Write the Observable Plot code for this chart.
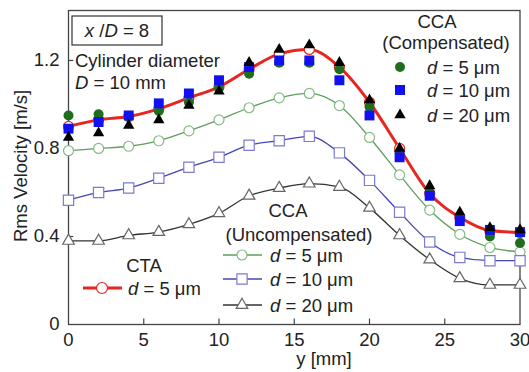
<!DOCTYPE html>
<html><head><meta charset="utf-8">
<script src="https://cdn.jsdelivr.net/npm/d3@7"></script>
<script src="https://cdn.jsdelivr.net/npm/@observablehq/plot@0.6"></script>
<style>body{margin:0;background:#fff}</style>
</head><body><div id="chart"></div>
<script>
const yPos = [0,2,4,6,8,10,12,14,16,18,20,22,24,26,28,30];
const ctaD5  = [0.90,0.93,0.945,0.98,1.03,1.08,1.16,1.23,1.25,1.17,1.01,0.80,0.595,0.487,0.427,0.418];
const ccaC5  = [0.95,0.955,0.945,0.97,1.01,1.075,1.14,1.19,1.19,1.16,0.99,0.78,0.60,0.48,0.40,0.37];
const ccaC10 = [0.89,0.92,0.95,1.005,1.05,1.11,1.17,1.20,1.20,1.11,0.95,0.76,0.585,0.47,0.43,0.42];
const ccaC20 = [0.85,0.87,0.905,0.93,0.995,1.06,1.19,1.25,1.27,1.19,1.02,0.80,0.63,0.51,0.44,0.43];
const ccaU5  = [0.79,0.80,0.81,0.835,0.88,0.93,0.985,1.03,1.05,0.995,0.85,0.68,0.52,0.41,0.35,0.33];
const ccaU10 = [0.565,0.60,0.62,0.665,0.715,0.76,0.815,0.835,0.855,0.78,0.655,0.51,0.375,0.305,0.29,0.29];
const ccaU20 = [0.38,0.38,0.405,0.42,0.455,0.505,0.585,0.62,0.64,0.625,0.53,0.405,0.295,0.21,0.18,0.18];
const xTicks = [0,5,10,15,20,25,30];
const yTicks = [0,0.4,0.8,1.2];
const yTickLabels = ["0","0.4","0.8","1.2"];

const toRows = arr => yPos.map((p,i)=>({x:p, v:arr[i]}));
const font = "'Liberation Sans', Arial, sans-serif";
const FS = 18.5;

const uStyles = [
  {data: ccaU5, line:"#5e9e5e", mark:"#86bb86", symbol:"circle", r:5},
  {data: ccaU10, line:"#4545b5", mark:"#7b7bd0", symbol:"square", r:5.8},
  {data: ccaU20, line:"#333333", mark:"#666666", symbol:"triangle", r:4.3}
];

const marks = [
  Plot.frame({stroke:"#444", strokeWidth:1.3}),
  Plot.ruleY(yTicks.slice(1), {y:d=>d, x1:0, x2:0.35, stroke:"#444", strokeWidth:1.2}),
  Plot.ruleX(xTicks.slice(1,-1), {x:d=>d, y1:0, y2:0.025, stroke:"#444", strokeWidth:1.2}),
  Plot.axisX({ticks:xTicks, tickSize:0, tickPadding:8, label:null, fontSize:FS}),
  Plot.axisY({ticks:yTicks, tickSize:0, tickPadding:9, label:null, fontSize:FS, tickFormat:(d,i)=>yTickLabels[i]})
];
for (const s of uStyles) {
  marks.push(Plot.line(toRows(s.data), {x:"x", y:"v", stroke:s.line, strokeWidth:1.3, curve:"monotone-x"}));
  marks.push(Plot.dot(toRows(s.data), {x:"x", y:"v", symbol:s.symbol, r:s.r, stroke:s.mark, fill:"white", strokeWidth:1.2}));
}
marks.push(Plot.line(toRows(ctaD5), {x:"x", y:"v", stroke:"#e8261f", strokeWidth:3, curve:"monotone-x"}));
marks.push(Plot.dot(toRows(ctaD5), {x:"x", y:"v", symbol:"circle", r:5, stroke:"#e8261f", fill:"white", strokeWidth:1.2}));
marks.push(Plot.dot(toRows(ccaC5), {x:"x", y:"v", symbol:"circle", r:5, fill:"#1e6e1e"}));
marks.push(Plot.dot(toRows(ccaC10), {x:"x", y:"v", symbol:"square", r:5.6, fill:"#1010f0"}));
marks.push(Plot.dot(toRows(ccaC20), {x:"x", y:"v", symbol:"triangle", r:4.2, fill:"#000"}));

const chart = Plot.plot({
  width:529, height:372,
  marginLeft:68, marginRight:9.5, marginTop:10, marginBottom:48,
  x:{domain:[0,30]},
  y:{domain:[0,1.427]},
  style:{fontFamily:font, fontSize:FS+"px", color:"#222", background:"white"},
  marks
});
document.getElementById("chart").appendChild(chart);

// annotations and legends
const svg = d3.select(chart);
const g = svg.append("g").attr("font-family", font).attr("font-size", FS).attr("fill","#222").attr("text-anchor","start");
function dText(x, y, num, anchor="start") {
  const t = g.append("text").attr("x", x).attr("y", y).attr("text-anchor", anchor);
  t.append("tspan").attr("font-style","italic").text("d");
  t.append("tspan").text(" = " + num + " μm");
}
g.append("text").attr("x",21).attr("y",166).attr("text-anchor","middle")
  .attr("transform","rotate(-90,21,166)").attr("dy","0.35em").text("Rms Velocity [m/s]");
g.append("text").attr("x",324).attr("y",365).attr("text-anchor","middle").text("y [mm]");

g.append("rect").attr("x",72).attr("y",16).attr("width",90).attr("height",29).attr("fill","white").attr("stroke","#333").attr("stroke-width",1.2);
const bt = g.append("text").attr("x",117).attr("y",37).attr("text-anchor","middle");
bt.append("tspan").attr("font-style","italic").text("x");
bt.append("tspan").text(" /");
bt.append("tspan").attr("font-style","italic").text("D");
bt.append("tspan").text(" = 8");
g.append("text").attr("x",75).attr("y",67).text("Cylinder diameter");
const dt = g.append("text").attr("x",75).attr("y",89);
dt.append("tspan").attr("font-style","italic").text("D");
dt.append("tspan").text(" = 10 mm");

// CCA compensated legend
g.append("text").attr("x",437).attr("y",28).attr("text-anchor","middle").text("CCA");
g.append("text").attr("x",446).attr("y",49).attr("text-anchor","middle").text("(Compensated)");
g.append("circle").attr("cx",400).attr("cy",67).attr("r",5).attr("fill","#1e6e1e");
g.append("rect").attr("x",395).attr("y",85).attr("width",10).attr("height",10).attr("fill","#1010f0");
g.append("path").attr("d",d3.symbol(d3.symbolTriangle, Math.PI*4.2*4.2)()).attr("transform","translate(400,115)").attr("fill","#000");
dText(427,74,"5"); dText(427,97,"10"); dText(427,122,"20");

// CCA uncompensated legend
g.append("text").attr("x",288).attr("y",217).attr("text-anchor","middle").text("CCA");
g.append("text").attr("x",299).attr("y",241).attr("text-anchor","middle").text("(Uncompensated)");
const uy = [255,279,305];
uStyles.forEach((s,i)=>{
  g.append("line").attr("x1",223).attr("x2",262).attr("y1",uy[i]).attr("y2",uy[i]).attr("stroke",s.line).attr("stroke-width",1.3);
  const sym = {circle:d3.symbolCircle, square:d3.symbolSquare, triangle:d3.symbolTriangle}[s.symbol];
  g.append("path").attr("d",d3.symbol(sym, Math.PI*s.r*s.r)()).attr("transform",`translate(242,${uy[i]})`)
    .attr("fill","white").attr("stroke",s.mark).attr("stroke-width",1.2);
  dText(270, uy[i]+7, ["5","10","20"][i]);
});

// CTA legend
g.append("text").attr("x",144).attr("y",272).attr("text-anchor","middle").text("CTA");
g.append("line").attr("x1",83).attr("x2",122).attr("y1",288).attr("y2",288).attr("stroke","#e8261f").attr("stroke-width",3);
g.append("circle").attr("cx",102).attr("cy",288).attr("r",5.5).attr("fill","white").attr("stroke","#e8261f").attr("stroke-width",1.2);
dText(128,295,"5");
</script></body></html>
